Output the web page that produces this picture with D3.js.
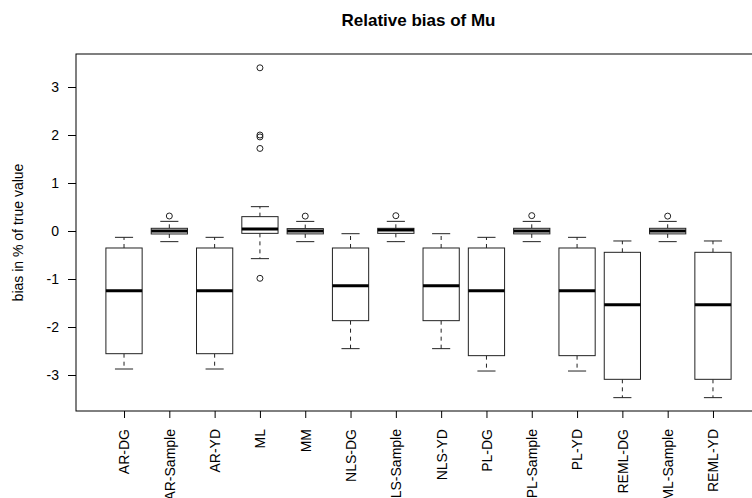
<!DOCTYPE html>
<html>
<head>
<meta charset="utf-8">
<script src="https://cdn.jsdelivr.net/npm/d3@7/dist/d3.min.js"></script>
<style>
  html, body { margin: 0; padding: 0; background: #fff; }
  svg { display: block; font-family: "Liberation Sans", Arial, sans-serif; }
</style>
</head>
<body>
<svg id="chart" width="752" height="498"></svg>
<script>
// Estimation methods, one box per method
const methods = ["AR-DG", "AR-Sample", "AR-YD", "ML", "MM", "NLS-DG", "NLS-Sample",
                 "NLS-YD", "PL-DG", "PL-Sample", "PL-YD", "REML-DG", "REML-Sample", "REML-YD"];

// Five-number summaries (% relative bias): lower whisker, Q1, median, Q3, upper whisker
const lowerWhisker = [-2.875, -0.222, -2.875, -0.576, -0.222, -2.451, -0.222,
                      -2.451, -2.917, -0.222, -2.917, -3.472, -0.222, -3.472];
const q1           = [-2.556, -0.062, -2.556, -0.049, -0.060, -1.868, -0.049,
                      -1.868, -2.597, -0.060, -2.597, -3.090, -0.060, -3.090];
const median       = [-1.243,  0.000, -1.243,  0.042,  0.000, -1.139,  0.020,
                      -1.139, -1.243,  0.000, -1.243, -1.535,  0.000, -1.535];
const q3           = [-0.354,  0.056, -0.354,  0.299,  0.050, -0.354,  0.056,
                      -0.354, -0.354,  0.056, -0.354, -0.444,  0.056, -0.444];
const upperWhisker = [-0.132,  0.201, -0.132,  0.507,  0.200, -0.056,  0.201,
                      -0.056, -0.132,  0.200, -0.132, -0.208,  0.200, -0.208];

// Points beyond the whiskers
const outliers = [[], [0.3125], [], [3.40, 2.00, 1.96, 1.72, -0.986], [0.31], [], [0.319],
                  [], [], [0.32], [], [], [0.31], []];

const yTicks = [-3, -2, -1, 0, 1, 2, 3];

(function draw() {
  const svg = d3.select("#chart");

  // Plot region (right edge runs slightly past the page)
  const plotLeft = 76, plotRight = 761, plotTop = 54, plotBottom = 411;

  const x = d3.scaleLinear().domain([-0.06, methods.length + 1.06]).range([plotLeft, plotRight]);
  const y = d3.scaleLinear().domain([-3.75, 3.6875]).range([plotBottom, plotTop]);

  const boxW = 0.8 * (x(2) - x(1));
  const stapleW = boxW / 2;

  const data = methods.map((m, i) => ({
    name: m, pos: i + 1,
    lo: lowerWhisker[i], q1: q1[i], med: median[i], q3: q3[i], hi: upperWhisker[i],
    out: outliers[i]
  }));

  const boxes = svg.append("g").selectAll("g.box").data(data).enter()
    .append("g").attr("class", "box");

  // dashed whiskers
  boxes.append("line")
    .attr("x1", d => x(d.pos)).attr("x2", d => x(d.pos))
    .attr("y1", d => y(d.q3)).attr("y2", d => y(d.hi))
    .attr("stroke", "#222").attr("stroke-dasharray", "4,4");
  boxes.append("line")
    .attr("x1", d => x(d.pos)).attr("x2", d => x(d.pos))
    .attr("y1", d => y(d.q1)).attr("y2", d => y(d.lo))
    .attr("stroke", "#222").attr("stroke-dasharray", "4,4");

  // staples
  boxes.append("line")
    .attr("x1", d => x(d.pos) - stapleW / 2).attr("x2", d => x(d.pos) + stapleW / 2)
    .attr("y1", d => y(d.hi)).attr("y2", d => y(d.hi))
    .attr("stroke", "#222");
  boxes.append("line")
    .attr("x1", d => x(d.pos) - stapleW / 2).attr("x2", d => x(d.pos) + stapleW / 2)
    .attr("y1", d => y(d.lo)).attr("y2", d => y(d.lo))
    .attr("stroke", "#222");

  // boxes
  boxes.append("rect")
    .attr("x", d => x(d.pos) - boxW / 2).attr("width", boxW)
    .attr("y", d => y(d.q3)).attr("height", d => y(d.q1) - y(d.q3))
    .attr("fill", "#fff").attr("stroke", "#222");

  // medians
  boxes.append("line")
    .attr("x1", d => x(d.pos) - boxW / 2).attr("x2", d => x(d.pos) + boxW / 2)
    .attr("y1", d => y(d.med)).attr("y2", d => y(d.med))
    .attr("stroke", "#000").attr("stroke-width", 3);

  // outliers
  boxes.selectAll("circle").data(d => d.out.map(v => ({ pos: d.pos, v }))).enter()
    .append("circle")
    .attr("cx", d => x(d.pos)).attr("cy", d => y(d.v)).attr("r", 3)
    .attr("fill", "none").attr("stroke", "#222");

  // frame
  svg.append("rect")
    .attr("x", plotLeft).attr("y", plotTop)
    .attr("width", plotRight - plotLeft).attr("height", plotBottom - plotTop)
    .attr("fill", "none").attr("stroke", "#000");

  // y axis
  const yAxis = svg.append("g").attr("transform", `translate(${plotLeft},0)`)
    .call(d3.axisLeft(y).tickValues(yTicks).tickSize(8).tickPadding(9)
          .tickFormat(d => d < 0 ? "-" + Math.abs(d) : String(d)));
  yAxis.select(".domain").remove();
  yAxis.selectAll("line").attr("stroke", "#000");
  yAxis.selectAll("text").attr("font-size", 14).attr("fill", "#000")
    .attr("font-family", "Liberation Sans, Arial, sans-serif");

  // x axis with vertical labels
  const xAxis = svg.append("g").attr("transform", `translate(0,${plotBottom})`)
    .call(d3.axisBottom(x).tickValues(data.map(d => d.pos)).tickSize(7)
          .tickFormat((d, i) => methods[i]));
  xAxis.select(".domain").remove();
  xAxis.selectAll("line").attr("stroke", "#000");
  xAxis.selectAll("text")
    .attr("font-size", 14).attr("fill", "#000")
    .attr("font-family", "Liberation Sans, Arial, sans-serif")
    .attr("transform", "rotate(-90)")
    .attr("x", -18).attr("y", 0).attr("dy", "0.35em")
    .attr("text-anchor", "end");

  // title
  svg.append("text")
    .attr("x", (plotLeft + plotRight) / 2).attr("y", 26)
    .attr("text-anchor", "middle").attr("font-size", 17).attr("font-weight", "bold")
    .text("Relative bias of Mu");

  // y-axis title
  svg.append("text")
    .attr("transform", `translate(23,${(plotTop + plotBottom) / 2}) rotate(-90)`)
    .attr("text-anchor", "middle").attr("font-size", 14)
    .text("bias in % of true value");
})();
</script>
</body>
</html>
